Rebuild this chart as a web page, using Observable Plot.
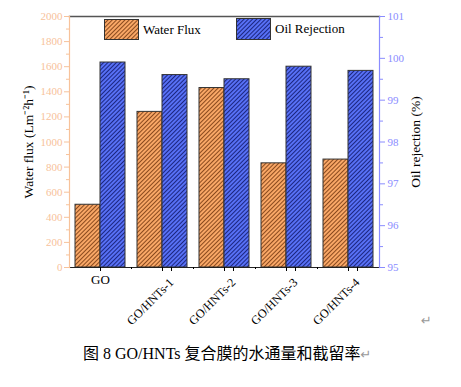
<!DOCTYPE html>
<html><head><meta charset="utf-8">
<script src="https://cdn.jsdelivr.net/npm/d3@7"></script>
<script src="https://cdn.jsdelivr.net/npm/@observablehq/plot@0.6"></script>
<style>
body{margin:0;background:#fff;width:461px;height:387px;overflow:hidden;position:relative;font-family:"Liberation Serif",serif;}
#chart{position:absolute;left:0;top:0;}
#caption{position:absolute;left:83px;top:340px;white-space:nowrap;font-size:16px;font-family:"Liberation Serif","Noto Sans CJK SC",serif;color:#000;}
.ret{color:#999;font-family:"DejaVu Sans",sans-serif;font-size:13px;}
.legend{position:absolute;display:flex;align-items:center;font-size:13px;}
.legend svg{margin-right:4px;}
</style></head>
<body>
<svg width="0" height="0" style="position:absolute">
<defs>
<pattern id="hatchO" patternUnits="userSpaceOnUse" width="3" height="3" patternTransform="rotate(45)">
<rect width="3" height="3" fill="#F9A766"/><line x1="0.5" y1="0" x2="0.5" y2="3" stroke="#8a4a1e" stroke-width="1"/>
</pattern>
<pattern id="hatchB" patternUnits="userSpaceOnUse" width="3" height="3" patternTransform="rotate(45)">
<rect width="3" height="3" fill="#5770F5"/><line x1="0.5" y1="0" x2="0.5" y2="3" stroke="#1c2680" stroke-width="1"/>
</pattern>
</defs></svg>
<div id="chart"></div>
<div class="legend" style="left:104px;top:19px;"><svg width="35" height="21"><rect x="0.5" y="0.5" width="34" height="20" fill="url(#hatchO)" stroke="#333"/></svg>Water Flux</div>
<div class="legend" style="left:236px;top:18px;"><svg width="35" height="22"><rect x="0.5" y="0.5" width="34" height="21" fill="url(#hatchB)" stroke="#333"/></svg>Oil Rejection</div>
<div class="ret" style="position:absolute;left:421px;top:313px;">↵</div>
<div id="caption">图 8 GO/HNTs 复合膜的水通量和截留率<span class="ret">↵</span></div>
<script>
const categories = ["GO", "GO/HNTs-1", "GO/HNTs-2", "GO/HNTs-3", "GO/HNTs-4"];
const waterFlux = [500, 1240, 1430, 830, 860];
const oilRejection = [99.9, 99.6, 99.5, 99.8, 99.7];
const leftTicks = [0, 200, 400, 600, 800, 1000, 1200, 1400, 1600, 1800, 2000];
const rightTicks = [95, 96, 97, 98, 99, 100, 101];
const oilMin = 95, oilMax = 101, fluxMax = 2000;

const toLeft = v => (v - oilMin) / (oilMax - oilMin) * fluxMax;
const toRight = y => oilMin + y / fluxMax * (oilMax - oilMin);

const waterData = categories.map((c, i) => ({cat: c, v: waterFlux[i]}));
const oilData = categories.map((c, i) => ({cat: c, v: toLeft(oilRejection[i])}));

const orange = "#F7C29A", blue = "#8A8CFF";
const minorLeft = leftTicks.slice(0, -1).map(d => d + 100);
const minorRight = rightTicks.slice(0, -1).map(d => toLeft(d + 0.5));

const chart = Plot.plot({
  width: 461, height: 340,
  marginLeft: 69, marginRight: 82, marginTop: 16, marginBottom: 73,
  style: {fontFamily: "Liberation Serif, serif", background: "transparent"},
  x: {domain: categories, paddingInner: 0.194, paddingOuter: 0.097, axis: null},
  y: {domain: [0, fluxMax], axis: null},
  marks: [
    Plot.barY(waterData, {x: "cat", y: "v", insetRight: 25, fill: "url(#hatchO)", stroke: "#333", strokeWidth: 1}),
    Plot.barY(oilData, {x: "cat", y: "v", insetLeft: 25, fill: "url(#hatchB)", stroke: "#333", strokeWidth: 1}),
    Plot.frame({anchor: "top", stroke: "#555", strokeWidth: 1.5}),
    Plot.frame({anchor: "bottom", stroke: "#222", strokeWidth: 1.2}),
    Plot.frame({anchor: "left", stroke: orange, strokeWidth: 1.2}),
    Plot.frame({anchor: "right", stroke: blue, strokeWidth: 1.2}),
    // left axis
    Plot.axisY({ticks: leftTicks, anchor: "left", tickSize: 5, tickPadding: 2, stroke: orange, color: orange, fontSize: 11,
      tickFormat: d => String(d),
      label: "Water flux (Lm⁻²h⁻¹)", labelAnchor: "center", labelArrow: "none", labelOffset: 46}),
    Plot.axisY({ticks: minorLeft, anchor: "left", tickSize: 3, text: null, stroke: orange, label: null}),
    // right axis
    Plot.axisY({ticks: rightTicks.map(toLeft), anchor: "right", tickSize: 5, tickPadding: 3, stroke: blue, color: blue, fontSize: 11,
      tickFormat: d => String(Math.round(toRight(d))),
      label: "Oil rejection (%)", labelAnchor: "center", labelArrow: "none", labelOffset: 40}),
    Plot.axisY({ticks: minorRight, anchor: "right", tickSize: 3, text: null, stroke: blue, label: null}),
    // bottom axis
    Plot.axisX({ticks: categories.slice(0, 1), anchor: "bottom", tickSize: 4, tickPadding: 3, fontSize: 13, color: "#000", label: null}),
    Plot.axisX({ticks: categories.slice(1), anchor: "bottom", tickSize: 4, tickPadding: 9, tickRotate: -45, fontSize: 12.2, color: "#000", label: null, dx: 9}),
    Plot.axisX({ticks: categories.slice(1), anchor: "bottom", tickSize: 4, text: null, label: null}),
    Plot.axisX({ticks: categories.slice(0, -1), anchor: "bottom", tickSize: 2, text: null, label: null, dx: 31})
  ]
});
chart.querySelectorAll("[aria-label='y-axis label'] text, [aria-label='y-axis label']").forEach(e => { e.setAttribute("fill", "#000"); e.setAttribute("font-size", "13.5"); });
document.getElementById("chart").appendChild(chart);
</script>
</body></html>
